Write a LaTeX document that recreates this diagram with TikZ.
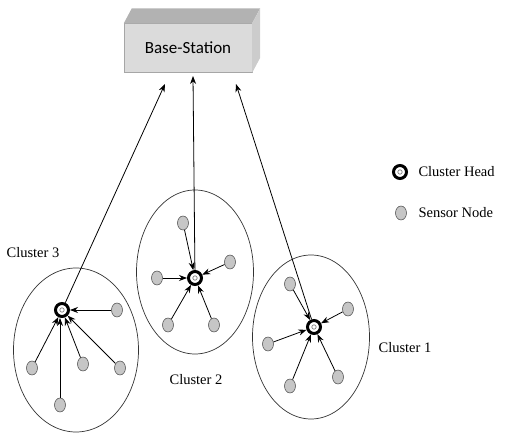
\documentclass[tikz,border=0pt]{standalone}
\usepackage{fontspec}
\setmainfont{Liberation Serif}
\newfontfamily\boxfont{Carlito}
\usetikzlibrary{shapes.geometric,arrows.meta}

\begin{document}
\begin{tikzpicture}[
x=1pt,y=-1pt,
>={Stealth[length=8pt,width=6pt]},
sensor/.style={ellipse,draw=gray!70!black,fill=gray!45,line width=0.6pt,minimum width=11pt,minimum height=14pt,inner sep=0pt},
head/.style={circle,draw=black,line width=3pt,fill=white,minimum size=13pt,inner sep=0pt,
  path picture={\draw[gray,line width=0.7pt] (path picture bounding box.center) circle (2.2pt);}},
cluster/.style={ellipse,draw=black!80,line width=0.7pt,minimum width=117pt,minimum height=164pt,inner sep=0pt},
label/.style={font=\fontsize{14.5}{16}\selectfont}
]
\useasboundingbox (0,0) rectangle (523,433);

% base station
\node[draw=gray!70,fill=gray!28,minimum width=128pt,minimum height=49pt,inner sep=0pt,
      font=\boxfont\fontsize{17}{19}\selectfont] (bs) at (188,48) {Base-Station};
\fill[gray!60] (bs.north west) -- ++(8,-15) -- ([shift={(8,-15)}]bs.north east) -- (bs.north east) -- cycle;
\fill[gray!40] (bs.north east) -- ++(8,-15) -- ([shift={(8,-15)}]bs.south east) -- (bs.south east) -- cycle;
\coordinate (in3) at (165,84);
\coordinate (in2) at (193,76);
\coordinate (in1) at (236,84);

% cluster 3
\node[cluster,minimum width=125pt] (c3) at (76,350) {};
\node[head] (h3) at (62,310) {};
	\node[sensor] (s31) at (117,310) {};
	\node[sensor] (s32) at (32,368) {};
	\node[sensor] (s33) at (83,364) {};
	\node[sensor] (s34) at (120,368) {};
	\node[sensor] (s35) at (60,405) {};
\node[label] (l3) at (33,253) {Cluster 3};

% cluster 2
\node[cluster] (c2) at (195,272) {};
\node[head] (h2) at (195,278) {};
	\node[sensor] (s21) at (183,223) {};
	\node[sensor] (s22) at (230,262) {};
	\node[sensor] (s23) at (157,278) {};
	\node[sensor] (s24) at (168,325) {};
	\node[sensor] (s25) at (214,325) {};
\node[label] (l2) at (196,380) {Cluster 2};

% cluster 1
\node[cluster] (c1) at (311,337) {};
\node[head] (h1) at (314,327) {};
	\node[sensor] (s11) at (290,284) {};
	\node[sensor] (s12) at (348,309) {};
	\node[sensor] (s13) at (268,344) {};
	\node[sensor] (s14) at (290,386) {};
	\node[sensor] (s15) at (338,377) {};
\node[label] (l1) at (405,348) {Cluster 1};

% legend
\node[head] (lh) at (400,172) {};
\node[label,anchor=west] (lht) at (415,172) {Cluster Head};
\node[sensor] (ls) at (401,213) {};
\node[label,anchor=west] (lst) at (415,213) {Sensor Node};

% links
\foreach \s in {s31,s32,s33,s34}
	\draw[->,line width=0.8pt] (\s) -- (h3);
\draw[->,line width=0.8pt] (s35) -- (s35 |- h3.south);
\foreach \s in {s21,s22,s23,s24,s25}
	\draw[->,line width=0.8pt] (\s) -- (h2);
\foreach \s in {s11,s12,s13,s14,s15}
	\draw[->,line width=0.8pt] (\s) -- (h1);

\draw[->,line width=0.8pt] (h3) -- (in3);
\draw[->,line width=0.8pt] (h2) -- (in2);
\draw[->,line width=0.8pt] (h1) -- (in1);

\end{tikzpicture}
\end{document}
